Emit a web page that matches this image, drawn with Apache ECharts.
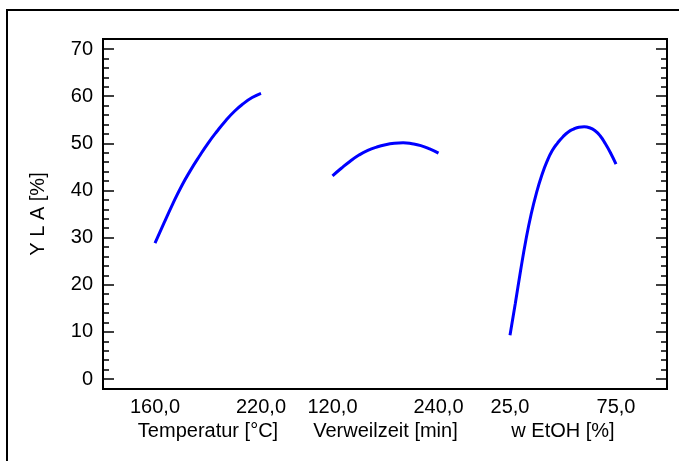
<!DOCTYPE html>
<html>
<head>
<meta charset="utf-8">
<script src="https://cdn.jsdelivr.net/npm/echarts@6/dist/echarts.min.js"></script>
<style>
  html, body { margin: 0; padding: 0; background: #fff; }
  #chartDom { width: 679px; height: 461px; }
</style>
</head>
<body>
<div id="chartDom"></div>
<script>
// Temperatur [°C] -> YLA [%]
const tempX = [160, 165, 170, 175, 180, 185, 190, 195, 200, 205, 210, 215, 220];
const tempY = [28.8, 33.0, 37.1, 40.9, 44.2, 47.2, 50.0, 52.5, 54.8, 56.8, 58.4, 59.7, 60.6];
// Verweilzeit [min] -> YLA [%]
const zeitX = [120, 130, 140, 150, 160, 170, 180, 190, 200, 210, 220, 230, 240];
const zeitY = [43.1, 44.7, 46.2, 47.5, 48.5, 49.2, 49.7, 50.0, 50.1, 49.9, 49.5, 48.8, 47.9];
// w EtOH [%] -> YLA [%]
const etohX = [25, 27.5, 30, 32.5, 35, 37.5, 40, 42.5, 45, 47.5, 50, 52.5, 55, 57.5, 60, 62.5, 65, 67.5, 70, 72.5, 75];
const etohY = [9.3, 16, 23, 29.5, 35, 39.5, 43.2, 46.2, 48.5, 50.1, 51.4, 52.4, 53.0, 53.4, 53.5, 53.3, 52.7, 51.6, 49.9, 47.9, 45.6];

const segLabels = [[160, 220], [120, 240], [25, 75]];
const segNames = ['Temperatur [°C]', 'Verweilzeit [min]', 'w EtOH [%]'];
const yTitle = 'Y L A [%]';

const FONT = 'Liberation Sans, Arial, sans-serif';
const FS = 20;
const fmt = v => v.toFixed(1).replace('.', ',');
const pairs = (xs, ys) => xs.map((x, i) => [x, ys[i]]);

let chart = echarts.init(document.getElementById('chartDom'));

const segLeft = [155, 332.5, 510];
const grids = [
  { left: 103, top: 39, width: 564, height: 350, show: true, borderColor: '#000', borderWidth: 2 },
  { left: 103, top: 49, width: 564, height: 330 }
];
segLeft.forEach(l => grids.push({ left: l, top: 49, width: 106, height: 330 }));

const hiddenX = (g) => ({ type: 'value', gridIndex: g, show: false, min: 0, max: 1 });
const xAxes = [hiddenX(0), hiddenX(1)];
segLabels.forEach((lab, i) => {
  xAxes.push({
    type: 'value', gridIndex: i + 2, min: lab[0], max: lab[1],
    axisLine: { show: false }, axisTick: { show: false }, splitLine: { show: false },
    axisLabel: { customValues: lab, formatter: fmt, margin: 18, fontSize: FS, color: '#000', fontFamily: FONT },
    name: segNames[i], nameLocation: 'middle', nameGap: 38,
    nameTextStyle: { fontSize: FS, color: '#000', fontFamily: FONT }
  });
});

const yAxes = [
  { type: 'value', gridIndex: 0, show: false, min: 0, max: 1 },
  {
    type: 'value', gridIndex: 1, position: 'left', min: 0, max: 70, interval: 10,
    axisLine: { show: false }, splitLine: { show: false },
    axisTick: { inside: true, length: 11, lineStyle: { color: '#000', width: 1.5 } },
    minorTick: { show: true, splitNumber: 5, length: 6, lineStyle: { color: '#000', width: 1.5 } },
    axisLabel: { margin: 10, fontSize: FS, color: '#000', fontFamily: FONT },
    name: yTitle, nameLocation: 'middle', nameGap: 55, nameRotate: 90,
    nameTextStyle: { fontSize: FS, color: '#000', fontFamily: FONT }
  },
  {
    type: 'value', gridIndex: 1, position: 'right', min: 0, max: 70, interval: 10,
    axisLine: { show: false }, splitLine: { show: false }, axisLabel: { show: false },
    axisTick: { inside: true, length: 11, lineStyle: { color: '#000', width: 1.5 } },
    minorTick: { show: true, splitNumber: 5, length: 6, lineStyle: { color: '#000', width: 1.5 } }
  }
];
[2, 3, 4].forEach(g => yAxes.push({ type: 'value', gridIndex: g, show: false, min: 0, max: 70 }));

const curves = [pairs(tempX, tempY), pairs(zeitX, zeitY), pairs(etohX, etohY)];

chart.setOption({
  animation: false,
  graphic: [{
    type: 'rect', shape: { x: 7, y: 10, width: 700, height: 480 },
    style: { fill: 'none', stroke: '#000', lineWidth: 2 }, silent: true
  }],
  grid: grids,
  xAxis: xAxes,
  yAxis: yAxes,
  series: curves.map((d, i) => ({
    type: 'line', xAxisIndex: i + 2, yAxisIndex: i + 3,
    data: d, smooth: true, showSymbol: false,
    lineStyle: { color: '#0000ff', width: 3 }
  }))
});
</script>
</body>
</html>
